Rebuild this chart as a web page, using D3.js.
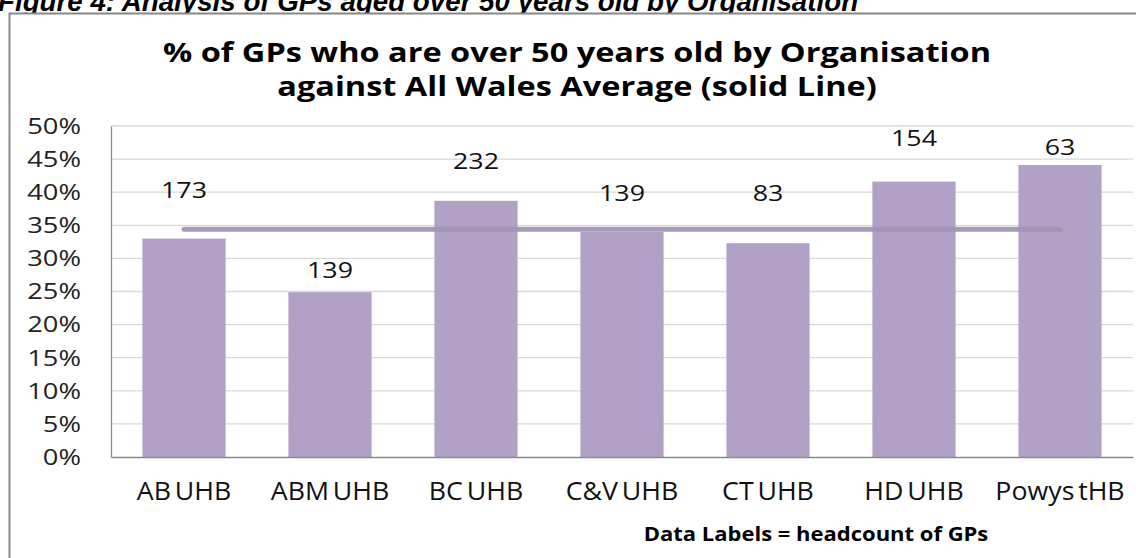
<!DOCTYPE html>
<html>
<head>
<meta charset="utf-8">
<script src="https://cdn.jsdelivr.net/npm/d3@7"></script>
<style>
  html, body { margin: 0; padding: 0; background: #fff; }
  svg { display: block; }
</style>
</head>
<body>
<svg id="chart" width="1136" height="558"></svg>
<script>
// ---- data ----
const categories = ["AB UHB", "ABM UHB", "BC UHB", "C&V UHB", "CT UHB", "HD UHB", "Powys tHB"];
const pctOver50 = [33.0, 24.9, 38.7, 34.0, 32.3, 41.6, 44.1];
const headcount = [173, 139, 232, 139, 83, 154, 63];
const labelLevel = [40.3, 28.2, 44.7, 39.9, 39.9, 48.2, 46.8]; // invisible label series (%)
const walesAverage = 34.4;
const yTicks = [0, 5, 10, 15, 20, 25, 30, 35, 40, 45, 50];

const figureCaption = "Figure 4: Analysis of GPs aged over 50 years old by Organisation";
const titleLines = ["% of GPs who are over 50 years old by Organisation", "against All Wales Average (solid Line)"];
const footnote = "Data Labels = headcount of GPs";

// ---- layout ----
const svg = d3.select("#chart");
const plot = { left: 111, right: 1133, top: 126, bottom: 457 };

const x = d3.scaleBand().domain(categories).range([plot.left, plot.right]).paddingInner(0.43).paddingOuter(0.215);
const y = d3.scaleLinear().domain([0, 50]).range([plot.bottom, plot.top]);

// helper: horizontally stretched text anchored at (px, py)
function stretch(sel, px, py, sx) {
  sel.attr("x", 0).attr("y", 0).attr("transform", `translate(${px},${py}) scale(${sx},1)`);
}

// caption cut at top
svg.append("text")
  .call(stretch, -2, 11, 0.99)
  .attr("font-family", "Liberation Sans, Arial, sans-serif")
  .attr("font-weight", "bold").attr("font-style", "italic")
  .attr("font-size", 28).attr("fill", "#000")
  .text(figureCaption);

// chart frame
svg.append("rect")
  .attr("x", 9.5).attr("y", 13.5).attr("width", 1140).attr("height", 560)
  .attr("fill", "#fff").attr("stroke", "#878787").attr("stroke-width", 2);

// title
svg.append("g").selectAll("text").data(titleLines).join("text")
  .each(function(d, i) { d3.select(this).call(stretch, 577, 62 + i * 34, 1.25); })
  .attr("text-anchor", "middle")
  .attr("font-family", "Open Sans, sans-serif").attr("font-weight", "bold")
  .attr("font-size", 26).attr("fill", "#000")
  .text(d => d);

// gridlines
svg.append("g").selectAll("line").data(yTicks.filter(t => t > 0)).join("line")
  .attr("x1", plot.left).attr("x2", plot.right)
  .attr("y1", d => y(d)).attr("y2", d => y(d))
  .attr("stroke", "#d9d9d9").attr("stroke-width", 1.3);

// y axis
const yAxis = svg.append("g").attr("transform", `translate(${plot.left},0)`)
  .call(d3.axisLeft(y).tickValues(yTicks).tickFormat(d => d + "%").tickSize(0).tickPadding(30));
yAxis.select(".domain").attr("stroke", "#8a8a8a").attr("stroke-width", 1.3);
yAxis.selectAll("text")
  .attr("font-family", "Open Sans, sans-serif").attr("font-size", 21).attr("fill", "#222")
  .each(function() { d3.select(this).call(stretch, -30, 0, 1.3).attr("dy", "0.35em"); });

// bars
svg.append("g").selectAll("rect").data(categories).join("rect")
  .attr("x", d => x(d)).attr("width", x.bandwidth())
  .attr("y", (d, i) => y(pctOver50[i]))
  .attr("height", (d, i) => y(0) - y(pctOver50[i]))
  .attr("fill", "#b2a1c7");

// average line
const cx = d => x(d) + x.bandwidth() / 2;
svg.append("path")
  .datum(categories)
  .attr("d", d3.line().x(d => cx(d)).y(() => y(walesAverage)))
  .attr("fill", "none").attr("stroke", "#a393b6").attr("stroke-width", 5)
  .attr("stroke-linecap", "round").attr("stroke-opacity", 0.95);

// x axis
const xAxis = svg.append("g").attr("transform", `translate(0,${plot.bottom})`)
  .call(d3.axisBottom(x).tickSize(0).tickPadding(26));
xAxis.select(".domain").attr("stroke", "#8a8a8a").attr("stroke-width", 1.3);
xAxis.selectAll(".tick").attr("transform", "translate(0,0)");
xAxis.selectAll("text")
  .attr("font-family", "Open Sans, sans-serif").attr("font-size", 25).attr("fill", "#111")
  .attr("word-spacing", "-3px")
  .attr("dy", "0.71em")
  .each(function(d) { d3.select(this).call(stretch, cx(d), 25, 1.07); });

// data labels
svg.append("g").selectAll("text").data(categories).join("text")
  .each(function(d, i) { d3.select(this).call(stretch, cx(d), y(labelLevel[i]), 1.22); })
  .attr("dy", "0.35em")
  .attr("text-anchor", "middle")
  .attr("font-family", "Open Sans, sans-serif").attr("font-size", 22).attr("fill", "#111")
  .text((d, i) => headcount[i]);

// footnote
svg.append("text")
  .call(stretch, 816, 541, 1.1)
  .attr("text-anchor", "middle")
  .attr("font-family", "Open Sans, sans-serif").attr("font-weight", "bold")
  .attr("font-size", 20).attr("fill", "#000")
  .text(footnote);
</script>
</body>
</html>
